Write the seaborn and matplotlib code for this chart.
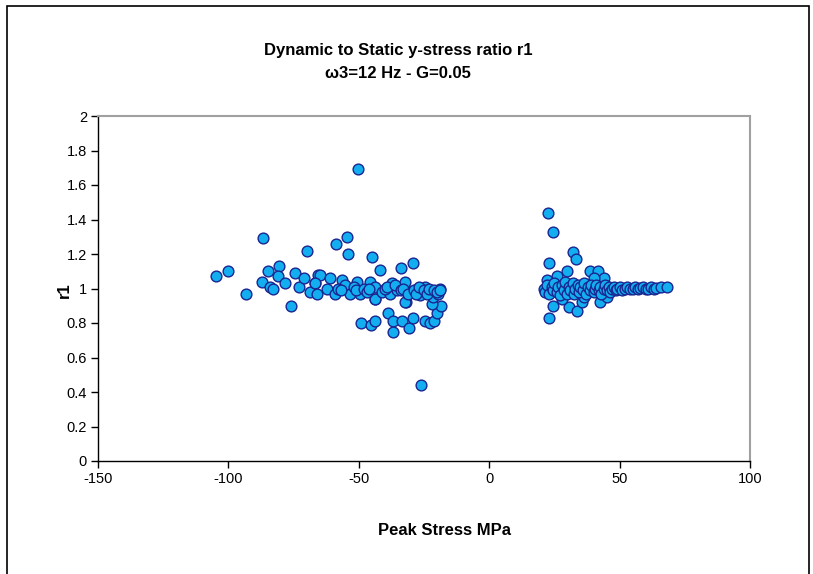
import matplotlib
matplotlib.use("Agg")
import matplotlib.pyplot as plt
import seaborn as sns
import pandas as pd
from matplotlib.patches import Rectangle

# ---- data ----
left_sparse_x = [-104.8, -100.2, -93.3, -86.7, -87.1, -84.8, -84.0, -80.6, -80.8, -83.0, -78.3,
                 -76.0, -74.5, -72.8, -70.9, -69.9, -68.6, -66.8, -65.7,
                 -58.7, -54.5, -54.1, -50.3, -44.9, -41.9, -33.8, -29.2,
                 -49.2, -45.3, -43.8, -38.8, -36.9, -36.9, -33.4, -30.8, -29.2, -24.6, -22.7,
                 -21.2, -26.2, -20.0, -18.5, -21.9, -31.9, -43.8]
left_sparse_y = [1.07, 1.10, 0.97, 1.29, 1.04, 1.10, 1.01, 1.13, 1.07, 1.00, 1.03,
                 0.90, 1.09, 1.01, 1.06, 1.22, 0.98, 1.03, 1.08,
                 1.26, 1.30, 1.20, 1.69, 1.18, 1.11, 1.12, 1.15,
                 0.80, 0.79, 0.81, 0.86, 0.81, 0.75, 0.81, 0.77, 0.83, 0.81, 0.80,
                 0.81, 0.44, 0.86, 0.90, 0.91, 0.92, 0.94]

left_band_x = [-64.9, -61.0, -66.8, -62.2, -66.0, -59.1, -56.4, -55.3, -53.4, -50.7, -49.5,
               -45.7, -43.8, -43.8, -41.1, -37.3, -38.0, -35.4, -32.3, -32.3, -30.4, -27.7,
               -26.5, -24.6, -22.7, -21.6, -18.9, -19.6,
               -58.0, -57.0, -52.0, -51.0, -48.0, -47.0, -46.0, -40.0, -39.0, -36.0, -34.0,
               -33.0, -31.0, -29.0, -28.0, -27.0, -25.0, -24.0, -23.0, -21.0, -20.0, -19.0]
left_band_y = [1.08, 1.06, 1.03, 1.00, 0.97, 0.97, 1.05, 1.02, 0.97, 1.04, 0.97,
               1.04, 1.01, 0.94, 0.98, 1.03, 0.97, 0.99, 1.04, 0.92, 0.98, 1.00,
               0.96, 1.01, 0.98, 0.95, 1.00, 0.97,
               1.00, 0.99, 1.01, 0.99, 1.00, 0.98, 1.00, 1.00, 1.01, 1.02, 0.99,
               1.00, 0.97, 0.99, 0.97, 1.01, 0.99, 0.97, 1.00, 0.99, 0.98, 0.99]

right_sparse_x = [22.5, 24.5, 32.1, 33.3, 23.0, 29.8, 38.6, 41.7, 23.0, 24.5, 30.6, 33.7,
                  35.6, 27.9, 42.5, 36.5, 45.0, 44.0, 40.0, 26.0, 22.0]
right_sparse_y = [1.44, 1.33, 1.21, 1.17, 1.15, 1.10, 1.10, 1.10, 0.83, 0.90, 0.89, 0.87,
                  0.92, 0.94, 0.92, 0.95, 0.95, 1.06, 1.06, 1.07, 1.05]

right_band_x = [21, 21.5, 22, 23, 24, 24.5, 25, 26, 26.5, 27, 28, 28.5, 29, 30, 30.5, 31,
                32, 32.5, 33, 34, 34.5, 35, 36, 36.5, 37, 38, 38.5, 39, 40, 40.5, 41, 42,
                42.5, 43, 44, 44.5, 45, 46, 46.5, 47, 48, 48.5, 49, 50, 51, 52, 53, 54,
                55, 56, 57, 58, 59, 60, 61, 62, 63, 64, 66, 68]
right_band_y = [1.00, 0.98, 1.02, 0.97, 1.01, 0.99, 1.03, 0.98, 1.01, 0.96, 1.02, 0.99,
                1.04, 0.97, 1.01, 0.99, 1.03, 0.97, 1.00, 1.02, 0.98, 1.01, 0.99, 1.03,
                0.97, 1.01, 0.99, 1.02, 0.98, 1.00, 1.02, 0.99, 1.01, 0.97, 1.00, 1.02,
                0.99, 1.01, 0.98, 1.00, 1.01, 0.99, 1.00, 1.01, 0.99, 1.00, 1.01, 1.00,
                0.995, 1.01, 1.00, 1.005, 1.01, 1.00, 0.995, 1.01, 1.00, 1.005, 1.01, 1.01]

x_ticks = [-150, -100, -50, 0, 50, 100]
y_ticks = [0, 0.2, 0.4, 0.6, 0.8, 1, 1.2, 1.4, 1.6, 1.8, 2]
y_tick_labels = ["0", "0.2", "0.4", "0.6", "0.8", "1", "1.2", "1.4", "1.6", "1.8", "2"]

df = pd.DataFrame({
    "Peak Stress MPa": left_sparse_x + left_band_x + right_sparse_x + right_band_x,
    "r1": left_sparse_y + left_band_y + right_sparse_y + right_band_y,
})

# ---- figure ----
sns.set_style("white")
plt.rcParams["font.family"] = ["Liberation Sans", "DejaVu Sans"]
plt.rcParams["text.color"] = "black"
plt.rcParams["axes.labelcolor"] = "black"

fig = plt.figure(figsize=(8.13, 5.74), dpi=100)
ax = fig.add_axes([98 / 813, 1 - 461 / 574, (750 - 98) / 813, (461 - 116) / 574])

sns.scatterplot(data=df, x="Peak Stress MPa", y="r1", ax=ax, s=60,
                color="#12aef0", edgecolor="#1a2590", linewidth=1.0, zorder=3)

ax.set_xlim(-150, 100)
ax.set_ylim(0, 2)
ax.set_xticks(x_ticks)
ax.set_xticklabels([str(t) for t in x_ticks])
ax.set_yticks(y_ticks)
ax.set_yticklabels(y_tick_labels)
ax.tick_params(axis="both", direction="out", length=5, width=1, colors="black",
               labelsize=10.5, pad=3, left=True, bottom=True)

for side in ["left", "bottom"]:
    ax.spines[side].set_color("black")
    ax.spines[side].set_linewidth(1.0)
for side in ["top", "right"]:
    ax.spines[side].set_color("#a0a0a0")
    ax.spines[side].set_linewidth(1.5)

ax.set_xlabel("Peak Stress MPa", fontsize=12, fontweight="bold", color="black")
ax.set_ylabel("r1", fontsize=12, fontweight="bold", color="black")
ax.xaxis.set_label_coords((444 - 98) / (750 - 98), -(523 - 461) / (461 - 116))
ax.yaxis.set_label_coords(-(98 - 72) / (750 - 98), (461 - 290) / (461 - 116))

fig.text(398 / 813, 1 - 50 / 574, "Dynamic to Static y-stress ratio r1",
         ha="center", va="center", fontsize=12, fontweight="bold", color="black")
fig.text(398 / 813, 1 - 73 / 574, "\u03c93=12 Hz - G=0.05",
         ha="center", va="center", fontsize=12, fontweight="bold", color="black")

fig.patches.append(Rectangle((7 / 813, -0.02), (809 - 7) / 813, 1.02 - 6 / 574,
                             transform=fig.transFigure, fill=False,
                             edgecolor="black", linewidth=1.2))

fig.savefig("out.png", dpi=100)
